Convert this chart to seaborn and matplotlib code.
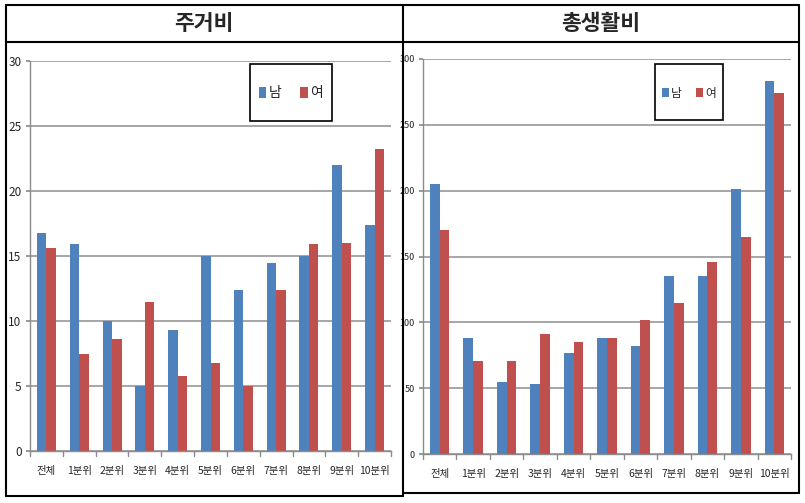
import matplotlib
matplotlib.use("Agg")
import matplotlib.pyplot as plt
import seaborn as sns
import pandas as pd
from matplotlib.lines import Line2D
from matplotlib.patches import Rectangle

categories = ["전체", "1분위", "2분위", "3분위", "4분위", "5분위", "6분위", "7분위", "8분위", "9분위", "10분위"]
series_names = ["남", "여"]
housing_male = [16.8, 15.9, 10.0, 5.0, 9.3, 15.0, 12.4, 14.5, 15.0, 22.0, 17.4]
housing_female = [15.6, 7.5, 8.6, 11.5, 5.8, 6.8, 5.0, 12.4, 15.9, 16.0, 23.2]
total_male = [205, 88, 55, 53, 77, 88, 82, 135, 135, 201, 283]
total_female = [170, 71, 71, 91, 85, 88, 102, 115, 146, 165, 274]
titles = ["주거비", "총생활비"]
housing_ticks = [0, 5, 10, 15, 20, 25, 30]
total_ticks = [0, 50, 100, 150, 200, 250, 300]

sns.set_theme(style="white")
plt.rcParams['font.family'] = ['Noto Sans CJK KR', 'DejaVu Sans']

palette = {"남": "#4F81BD", "여": "#C0504D"}

W, H = 805, 503
fig = plt.figure(figsize=(W / 100, H / 100), dpi=100)


def fx(x):
    return x / W


def fy(y):
    return 1 - y / H


def make_df(m, f):
    return pd.DataFrame({
        "cat": categories * 2,
        "sex": [series_names[0]] * len(categories) + [series_names[1]] * len(categories),
        "val": list(m) + list(f),
    })


panels = [
    dict(df=make_df(housing_male, housing_female), ticks=housing_ticks,
         box=(30, 61, 391, 451), leg=(250, 64, 332, 121), tfs=8.5, lfs=10, cs=1.3),
    dict(df=make_df(total_male, total_female), ticks=total_ticks,
         box=(423, 59, 791, 454), leg=(655, 64, 723, 120), tfs=6.5, lfs=8.5, cs=1.2),
]

for p in panels:
    x0, y0, x1, y1 = p["box"]
    ax = fig.add_axes([fx(x0), fy(y1), fx(x1 - x0), (y1 - y0) / H])
    sns.barplot(data=p["df"], x="cat", y="val", hue="sex", palette=palette,
                order=categories, hue_order=series_names, width=0.58,
                saturation=1, gap=0, ax=ax, legend=True, linewidth=0)
    ax.set_ylim(p["ticks"][0], p["ticks"][-1])
    ax.set_yticks(p["ticks"])
    ax.set_xlim(-0.5, len(categories) - 0.5)
    ax.yaxis.grid(True, color="#A6A6A6", linewidth=1.4)
    ax.set_axisbelow(True)
    ax.set_xlabel("")
    ax.set_ylabel("")
    for s in ["top", "right"]:
        ax.spines[s].set_visible(False)
    for s in ["left", "bottom"]:
        ax.spines[s].set_color("#8C8C8C")
        ax.spines[s].set_linewidth(1.0)
    ax.tick_params(axis="y", labelsize=p["tfs"], length=3, color="#8C8C8C", left=True, pad=3)
    ax.set_xticks([i for i in range(len(categories))])
    ax.set_xticklabels(categories, fontsize=7.5)
    ax.tick_params(axis="x", length=0, pad=11)
    for i in range(len(categories) + 1):
        ax.plot([i - 0.5, i - 0.5], [0, -0.012 * p["ticks"][-1]], color="#8C8C8C",
                lw=1.0, clip_on=False)
    ax.patch.set_alpha(0)
    # legend inside a fixed box
    lx0, ly0, lx1, ly1 = p["leg"]
    fig.add_artist(Rectangle((fx(lx0), fy(ly1)), fx(lx1 - lx0), (ly1 - ly0) / H,
                             transform=fig.transFigure, facecolor="white",
                             edgecolor="black", lw=1.2, zorder=5))
    handles, labels = ax.get_legend_handles_labels()
    ax.legend_.remove()
    leg = fig.legend(handles, labels, loc="center",
                     bbox_to_anchor=(fx((lx0 + lx1) / 2), fy((ly0 + ly1) / 2 + 1)),
                     ncol=2, frameon=False, fontsize=p["lfs"],
                     handlelength=0.55, handleheight=0.9, handletextpad=0.2,
                     columnspacing=p["cs"], borderpad=0.2,
                     bbox_transform=fig.transFigure)
    leg.set_zorder(6)

# table frame
def hline(y, xa, xb, lw=1.5):
    fig.add_artist(Line2D([fx(xa), fx(xb)], [fy(y), fy(y)], color="black", lw=lw,
                          transform=fig.transFigure))


def vline(x, ya, yb, lw=1.5):
    fig.add_artist(Line2D([fx(x), fx(x)], [fy(ya), fy(yb)], color="black", lw=lw,
                          transform=fig.transFigure))


hline(5, 6, 799)
hline(42, 6, 799)
hline(496, 6, 403)
hline(493, 403, 799)
vline(6, 5, 496)
vline(403, 5, 496)
vline(799, 5, 493)

fig.text(fx(204), fy(24), titles[0], ha="center", va="center", fontsize=15.5, fontweight="bold")
fig.text(fx(601), fy(24), titles[1], ha="center", va="center", fontsize=15.5, fontweight="bold")

fig.savefig("out.png", dpi=100)
